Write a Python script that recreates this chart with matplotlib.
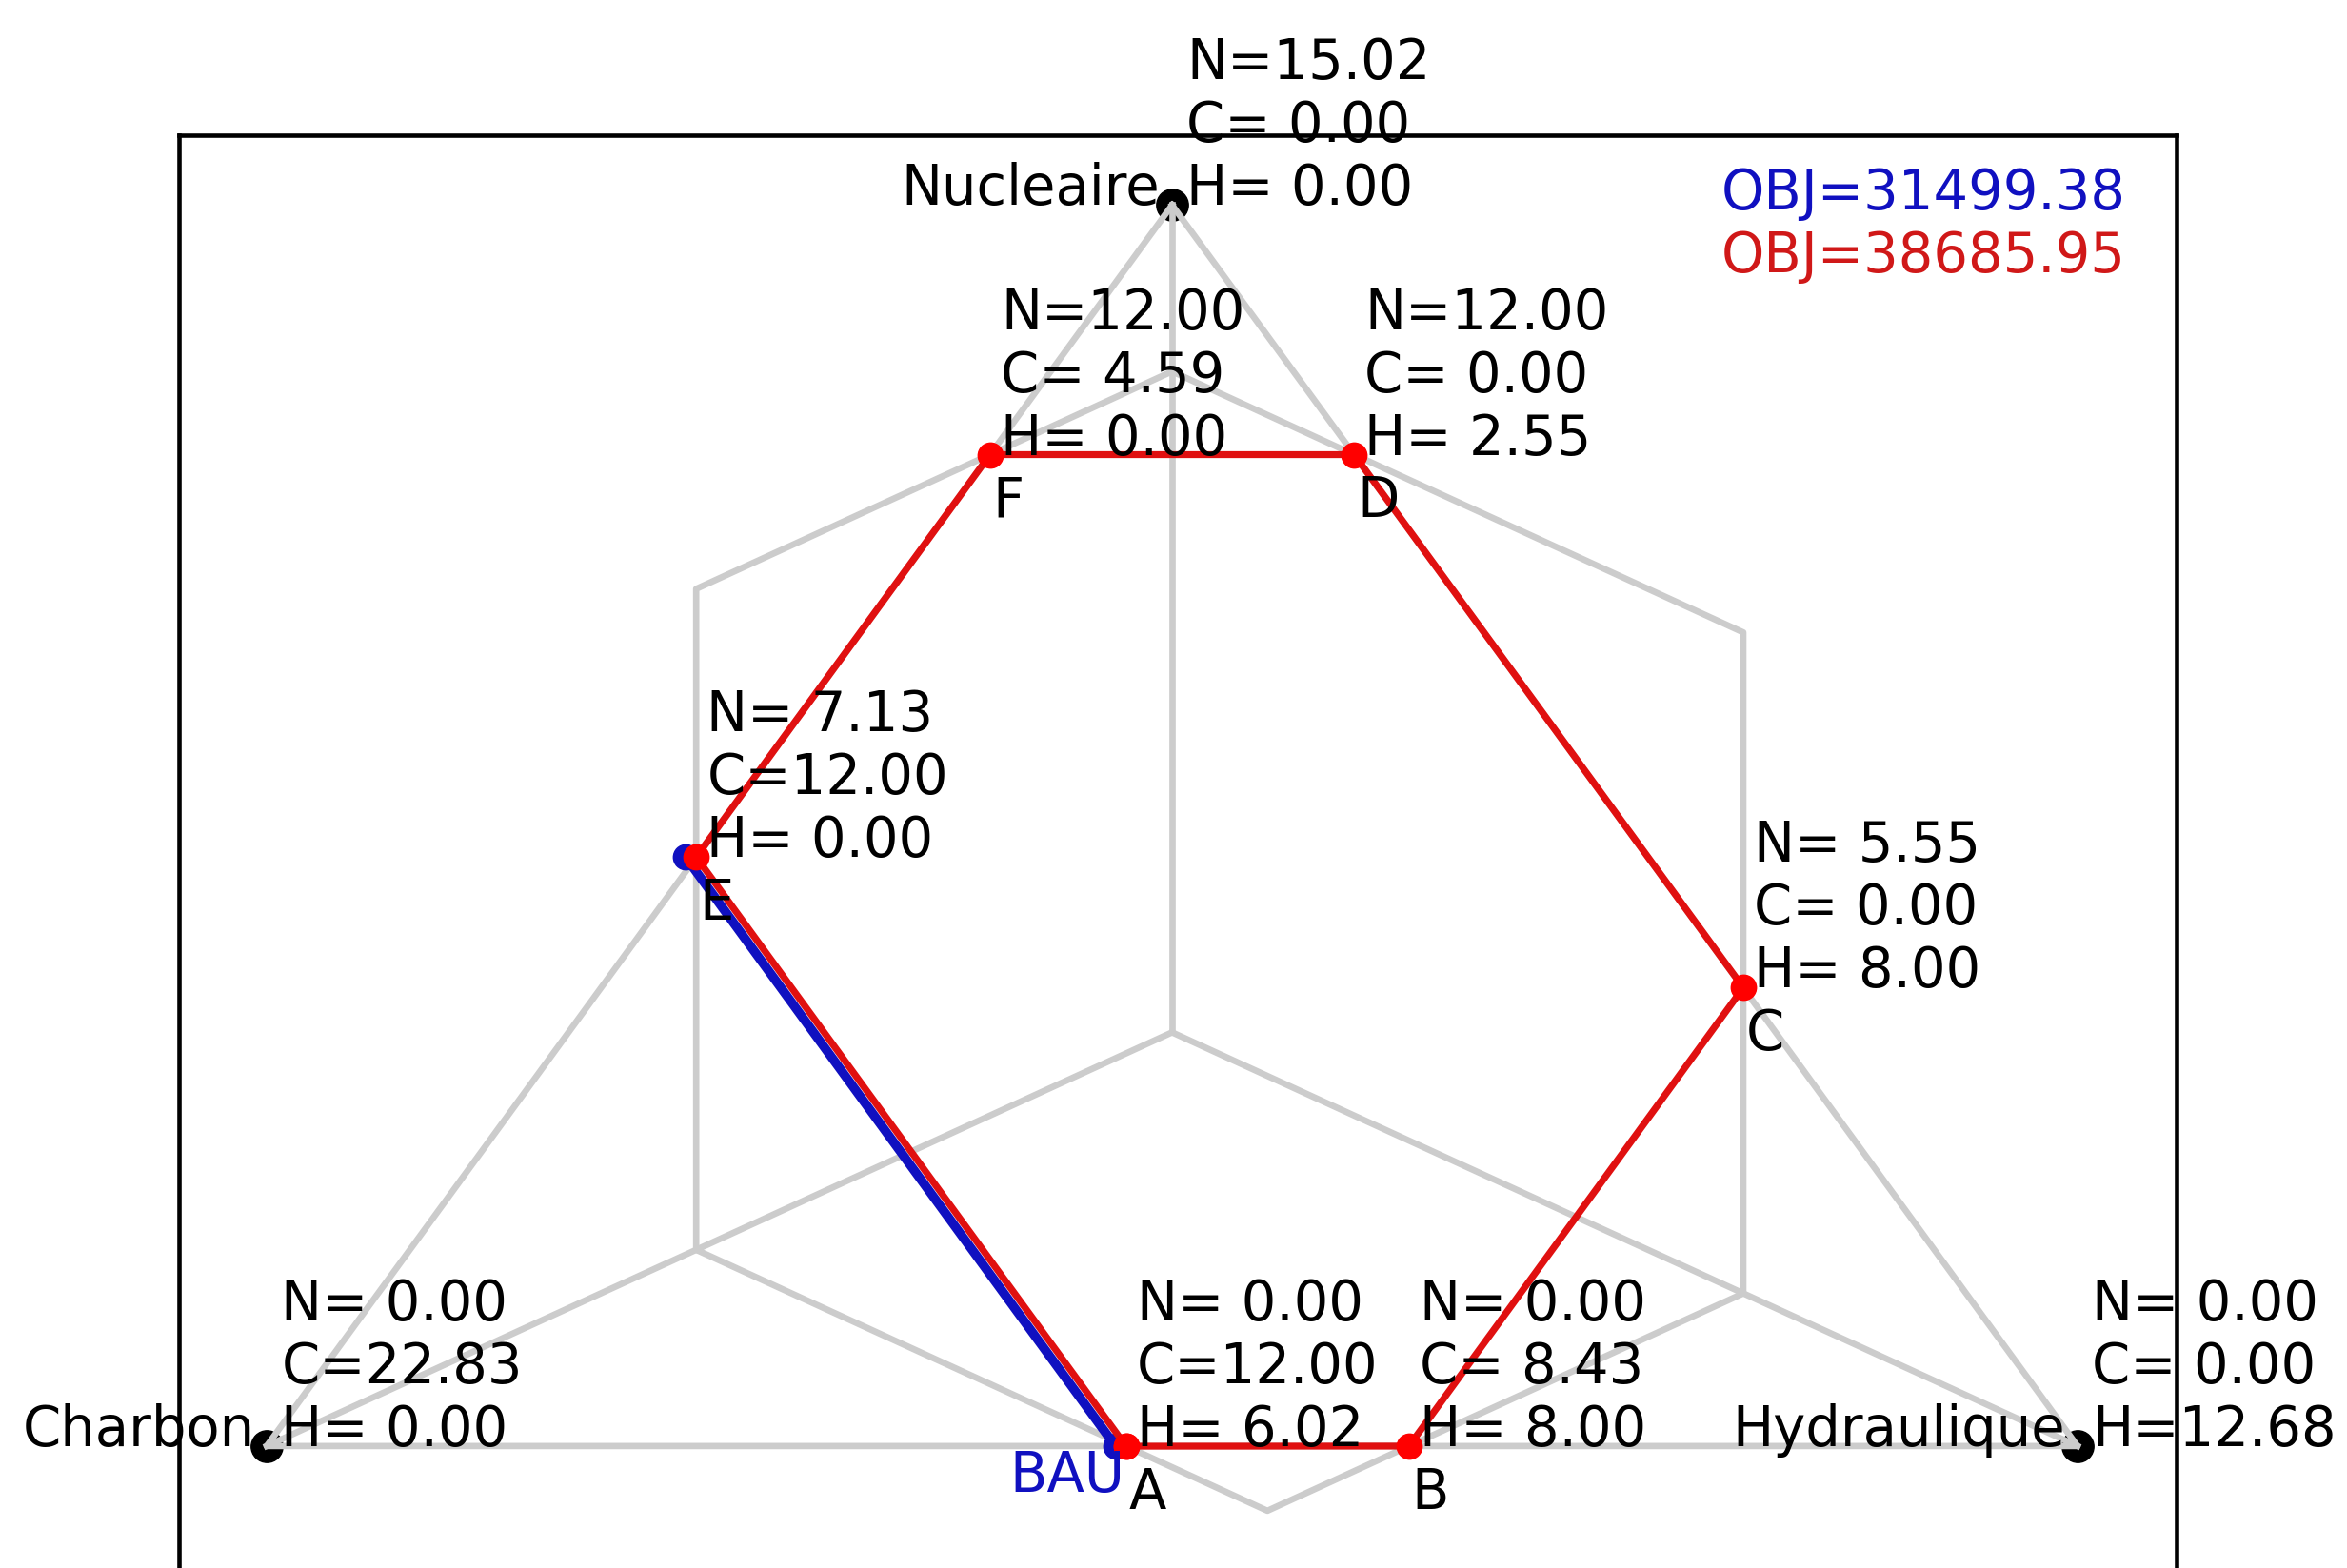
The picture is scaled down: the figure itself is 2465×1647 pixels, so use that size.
import numpy as np
import matplotlib
matplotlib.use("Agg")
import matplotlib.pyplot as plt
import matplotlib.transforms as mtransforms

# ---------------- data ----------------
intercept_N = 15.02   # Nucleaire
intercept_C = 22.83   # Charbon
intercept_H = 12.68   # Hydraulique
cap_N, cap_C, cap_H = 12.0, 12.0, 8.0

vertex_names = ["Nucleaire", "Charbon", "Hydraulique"]
vertex_N = [15.02, 0.00, 0.00]
vertex_C = [0.00, 22.83, 0.00]
vertex_H = [0.00, 0.00, 12.68]

point_labels = ["A", "B", "C", "D", "F", "E"]
point_N = [0.00, 0.00, 5.55, 12.00, 12.00, 7.13]
point_C = [12.00, 8.43, 0.00, 0.00, 4.59, 12.00]
point_H = [6.02, 8.00, 8.00, 2.55, 0.00, 0.00]

bau_N = [0.00, 7.13]
bau_C = [12.00, 12.00]
bau_H = [6.02, 0.00]

obj_bau = 31499.38
obj_alt = 38685.95


def proj(N, C, H):
    n = np.asarray(N, float) / intercept_N
    c = np.asarray(C, float) / intercept_C
    h = np.asarray(H, float) / intercept_H
    return (h - c) * np.sqrt(3) / 2, n - (c + h) / 2


FS = 41.5
GRAY = "#cccccc"
BLUE = "#1010c0"
RED = "#e01010"

fig = plt.figure(figsize=(24.65, 16.47), dpi=100)
ax = fig.add_axes([188 / 2465, -90 / 1647, 2098 / 2465, 1595 / 1647])
ax.set_xlim(-0.9499, 0.9608)
ax.set_ylim(-0.751, 1.0845)
ax.set_xticks([])
ax.set_yticks([])
for s in ax.spines.values():
    s.set_linewidth(3.3)

# vertices (markers under the grey lines)
vx, vy = proj(vertex_N, vertex_C, vertex_H)
ax.plot(vx, vy, "o", color="black", markersize=24, zorder=1, linestyle="none")

# axes from origin
ox, oy = proj(0, 0, 0)
for i in range(3):
    ax.plot([ox, vx[i]], [oy, vy[i]], color=GRAY, lw=4.8, zorder=2)
# triangle
ax.plot(list(vx) + [vx[0]], list(vy) + [vy[0]], color=GRAY, lw=4.8, zorder=2)
# box silhouette
box_N = [0, 0, 0, cap_N, cap_N, cap_N, 0]
box_C = [cap_C, cap_C, 0, 0, 0, cap_C, cap_C]
box_H = [0, cap_H, cap_H, cap_H, 0, 0, 0]
bx, by = proj(box_N, box_C, box_H)
ax.plot(bx, by, color=GRAY, lw=4.8, zorder=2)

# BAU path (blue), slightly shifted
shift = mtransforms.offset_copy(ax.transData, fig=fig, x=-8, y=0, units="points")
ux, uy = proj(bau_N, bau_C, bau_H)
ax.plot(ux, uy, "o-", color=BLUE, lw=7, markersize=19, zorder=3, transform=shift)

# alternative path (red), closed polygon
px, py = proj(point_N, point_C, point_H)
ax.plot(list(px) + [px[0]], list(py) + [py[0]], "o-", color=RED,
        markerfacecolor="red", markeredgecolor="red",
        lw=5.2, markersize=19, zorder=4)

# point texts
for i, lab in enumerate(point_labels):
    txt = "N=%5.2f\nC=%5.2f\nH=%5.2f" % (point_N[i], point_C[i], point_H[i])
    ax.annotate(txt, (px[i], py[i]), xytext=(8, 0), textcoords="offset points",
                ha="left", va="baseline", fontsize=FS, zorder=6)
    ax.annotate(lab, (px[i], py[i]), xytext=(2, -15), textcoords="offset points",
                ha="left", va="top", fontsize=FS, zorder=6)

# vertex texts
for i, name in enumerate(vertex_names):
    txt = "N=%5.2f\nC=%5.2f\nH=%5.2f" % (vertex_N[i], vertex_C[i], vertex_H[i])
    ax.annotate(txt, (vx[i], vy[i]), xytext=(11, 0), textcoords="offset points",
                ha="left", va="baseline", fontsize=FS, zorder=6)
    ax.annotate(name, (vx[i], vy[i]), xytext=(-9, 0), textcoords="offset points",
                ha="right", va="baseline", fontsize=FS, zorder=6)

ax.annotate("BAU", (ux[0], uy[0]), xytext=(7, -2), textcoords="offset points",
            ha="right", va="top", fontsize=FS, color=BLUE, zorder=6,
            xycoords=shift)

ax.text(0.772, 0.951, "OBJ=%.2f" % obj_bau, transform=ax.transAxes,
        ha="left", va="baseline", fontsize=FS, color=BLUE)
ax.text(0.772, 0.910, "OBJ=%.2f" % obj_alt, transform=ax.transAxes,
        ha="left", va="baseline", fontsize=FS, color="#d01818")

fig.savefig("out.png", dpi=100)
